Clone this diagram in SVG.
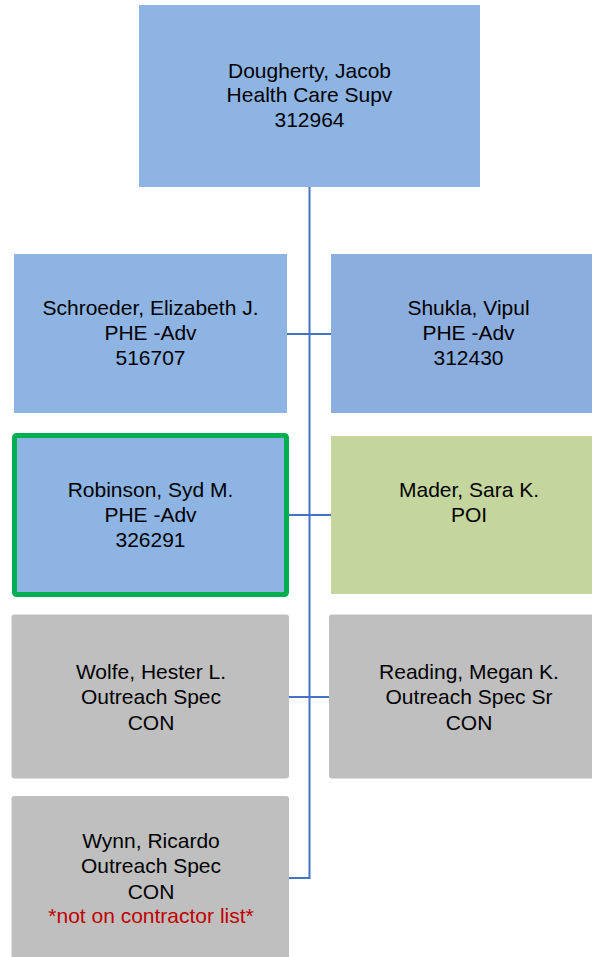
<svg xmlns="http://www.w3.org/2000/svg" width="592" height="957" viewBox="0 0 592 957">
<style>
text{font-family:"Liberation Sans",Arial,sans-serif;font-size:21px;fill:#000;text-anchor:middle}
.blue{fill:#8EB4E3}
.blue2{fill:#8CAEDE}
.green{fill:#C4D69E}
.gray{fill:#BFBFBF}
.sel{stroke:#00B050;stroke-width:5}
.red{fill:#C00000}
.conn{stroke:#4472C4;stroke-width:2;fill:none}
</style>
<rect width="592" height="957" fill="#fff"/>
<g id="connectors">
<path class="conn" d="M309.5 187V878H289"/>
<path class="conn" d="M287 334H331"/>
<path class="conn" d="M289 515H331"/>
<path class="conn" d="M289 697H329"/>
</g>
<g id="n-dougherty">
<rect class="blue" x="139" y="5" width="341" height="182"/>
<text x="309.5" y="77.5">Dougherty, Jacob</text>
<text x="309.5" y="102">Health Care Supv</text>
<text x="309.5" y="127">312964</text>
</g>
<g id="n-schroeder">
<rect class="blue" x="14" y="254" width="273" height="159"/>
<text x="150.5" y="315">Schroeder, Elizabeth J.</text>
<text x="150.5" y="340">PHE -Adv</text>
<text x="150.5" y="365">516707</text>
</g>
<g id="n-shukla">
<rect class="blue2" x="331" y="254" width="276" height="159"/>
<text x="468.5" y="315">Shukla, Vipul</text>
<text x="468.5" y="340">PHE -Adv</text>
<text x="468.5" y="365">312430</text>
</g>
<g id="n-robinson">
<rect class="blue sel" x="14.5" y="435.5" width="272" height="159" rx="2"/>
<text x="150.5" y="497">Robinson, Syd M.</text>
<text x="150.5" y="522">PHE -Adv</text>
<text x="150.5" y="547">326291</text>
</g>
<g id="n-mader">
<rect class="green" x="331" y="436" width="276" height="158"/>
<text x="469" y="497">Mader, Sara K.</text>
<text x="469" y="522">POI</text>
</g>
<g id="n-wolfe">
<rect class="gray" x="11.5" y="614.5" width="277.5" height="164" rx="3"/>
<text x="151" y="679">Wolfe, Hester L.</text>
<text x="151" y="704">Outreach Spec</text>
<text x="151" y="729.5">CON</text>
</g>
<g id="n-reading">
<rect class="gray" x="329" y="614.5" width="278" height="164" rx="3"/>
<text x="469" y="679">Reading, Megan K.</text>
<text x="469" y="704">Outreach Spec Sr</text>
<text x="469" y="729.5">CON</text>
</g>
<g id="n-wynn">
<rect class="gray" x="11.5" y="796" width="277.5" height="170" rx="3"/>
<text x="151" y="847.5">Wynn, Ricardo</text>
<text x="151" y="873">Outreach Spec</text>
<text x="151" y="898.5">CON</text>
<text class="red" x="151" y="923">*not on contractor list*</text>
</g>
</svg>
